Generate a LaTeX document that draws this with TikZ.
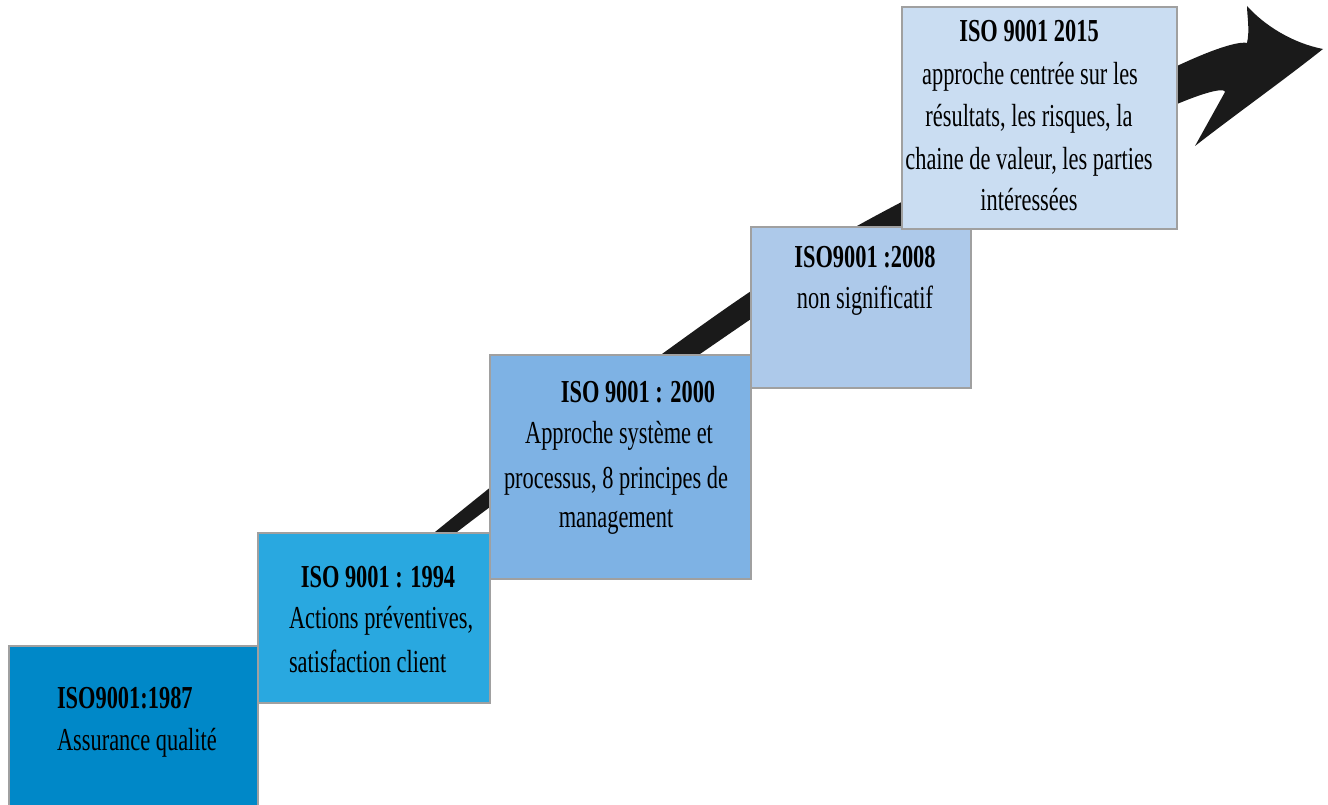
\documentclass[tikz,border=0pt]{standalone}
\usepackage{fontspec}
\setmainfont{Liberation Serif}[FakeStretch=0.70]
\definecolor{cA}{RGB}{0,136,200}
\definecolor{cB}{RGB}{41,168,224}
\definecolor{cC}{RGB}{126,178,228}
\definecolor{cD}{RGB}{173,201,234}
\definecolor{cE}{RGB}{202,221,242}
\definecolor{edge}{RGB}{160,160,160}
\definecolor{arrowc}{RGB}{26,26,26}
\tikzset{
  box/.style={draw=edge, line width=1.6pt, rectangle, inner sep=0pt, outer sep=0pt},
  txt/.style={inner sep=0pt, outer sep=0pt, anchor=base, font=\fontsize{32}{40}\selectfont},
  ttl/.style={txt, font=\fontsize{32}{40}\selectfont\bfseries},
}
\begin{document}
\begin{tikzpicture}[x=1pt,y=-1pt]
\useasboundingbox (0,0) rectangle (1328,805);
\clip (0,0) rectangle (1328,805);
% arrow
\fill[arrowc] plot[smooth, tension=0.55] coordinates {(400,567) (435,532) (662,354) (857,226) (1177,66) (1247,43)}
  .. controls (1250,30) and (1247,15) .. (1247,6)
  .. controls (1264,25) and (1292,43) .. (1323,49)
  .. controls (1280,83) and (1236,114) .. (1195,146)
  -- (1225,92)
  -- plot[smooth, tension=0.55] coordinates {(1225,92) (1177,104) (902,226) (700,354) (457,532) (420,570)}
  -- cycle;
% boxes
\node[box, fill=cA, minimum width=249pt, minimum height=166pt] (b1) at (133.5,729) {};
\node[box, fill=cB, minimum width=232pt, minimum height=170pt] (b2) at (374,618) {};
\node[box, fill=cC, minimum width=261pt, minimum height=224pt] (b3) at (620.5,467) {};
\node[box, fill=cD, minimum width=220pt, minimum height=161pt] (b4) at (861,307.5) {};
\node[box, fill=cE, minimum width=275pt, minimum height=222pt] (b5) at (1039.5,118) {};
% texts
\node[ttl, anchor=base west] (t1a) at (57,708) {ISO9001:1987};
\node[txt, anchor=base west] (t1b) at (57,750) {Assurance qualité};
\node[ttl] (t2a) at (378,587) {ISO 9001 : 1994};
\node[txt, anchor=base west] (t2b) at (289,628) {Actions préventives,};
\node[txt, anchor=base west] (t2c) at (289,672) {satisfaction client};
\node[ttl] (t3a) at (638,402) {ISO 9001 : 2000};
\node[txt] (t3b) at (619,443) {Approche système et};
\node[txt] (t3c) at (616,488) {processus, 8 principes de};
\node[txt] (t3d) at (616,527) {management};
\node[ttl] (t4a) at (865,267) {ISO9001 :2008};
\node[txt] (t4b) at (865,308) {non significatif};
\node[ttl] (t5a) at (1029,42) {ISO 9001 2015};
\node[txt] (t5b) at (1030,85) {approche centrée sur les};
\node[txt] (t5c) at (1029,127) {résultats, les risques, la};
\node[txt] (t5d) at (1029,170) {chaine de valeur, les parties};
\node[txt] (t5e) at (1029,211) {intéressées};
\end{tikzpicture}
\end{document}
